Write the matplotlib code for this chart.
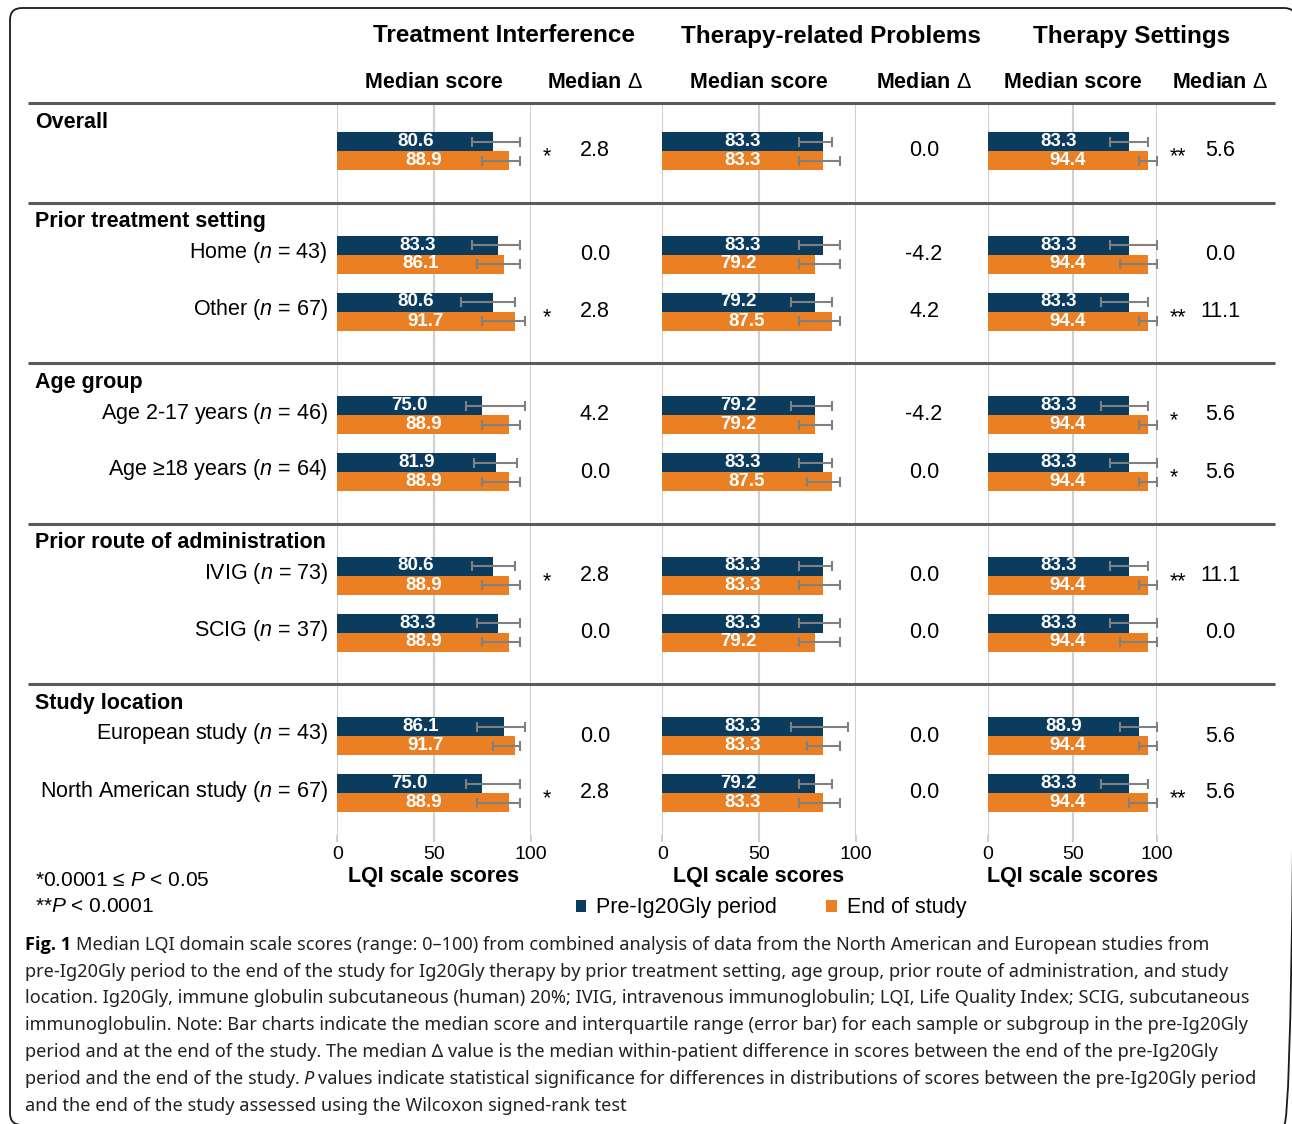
import matplotlib
matplotlib.use("Agg")
import matplotlib.pyplot as plt
from matplotlib.patches import FancyBboxPatch, Patch

plt.rcParams['font.family'] = ['Liberation Sans', 'DejaVu Sans']
plt.rcParams['mathtext.fontset'] = 'custom'
plt.rcParams['mathtext.rm'] = 'Liberation Sans'
plt.rcParams['mathtext.it'] = 'Liberation Sans:italic'
plt.rcParams['mathtext.bf'] = 'Liberation Sans:bold'

NAVY = "#0b3c5d"
ORANGE = "#ea7f24"
ERR = "#808080"
GRID = "#d0d0d0"

domains = ["Treatment Interference", "Therapy-related Problems", "Therapy Settings"]
sections = ["Overall", "Prior treatment setting", "Age group",
            "Prior route of administration", "Study location"]
section_rows = [1, 2, 2, 2, 2]
row_labels = ["", "Home ($n$ = 43)", "Other ($n$ = 67)",
              "Age 2-17 years ($n$ = 46)", "Age \u226518 years ($n$ = 64)",
              "IVIG ($n$ = 73)", "SCIG ($n$ = 37)",
              "European study ($n$ = 43)", "North American study ($n$ = 67)"]

# median scores: pre-Ig20Gly period / end of study
ti_pre = [80.6, 83.3, 80.6, 75.0, 81.9, 80.6, 83.3, 86.1, 75.0]
ti_end = [88.9, 86.1, 91.7, 88.9, 88.9, 88.9, 88.9, 91.7, 88.9]
trp_pre = [83.3, 83.3, 79.2, 79.2, 83.3, 83.3, 83.3, 83.3, 79.2]
trp_end = [83.3, 79.2, 87.5, 79.2, 87.5, 83.3, 79.2, 83.3, 83.3]
ts_pre = [83.3, 83.3, 83.3, 83.3, 83.3, 83.3, 83.3, 88.9, 83.3]
ts_end = [94.4, 94.4, 94.4, 94.4, 94.4, 94.4, 94.4, 94.4, 94.4]

# interquartile ranges
ti_pre_q1 = [69.4, 69.4, 63.9, 66.7, 70.8, 69.4, 72.2, 72.2, 66.7]
ti_pre_q3 = [94.4, 94.4, 91.7, 97.2, 93.1, 91.7, 94.4, 97.2, 94.4]
ti_end_q1 = [75.0, 72.2, 75.0, 75.0, 75.0, 75.0, 75.0, 80.6, 72.2]
ti_end_q3 = [94.4, 94.4, 97.2, 94.4, 94.4, 94.4, 94.4, 94.4, 94.4]
trp_pre_q1 = [70.8, 70.8, 66.7, 66.7, 70.8, 70.8, 70.8, 66.7, 70.8]
trp_pre_q3 = [87.5, 91.7, 87.5, 87.5, 87.5, 87.5, 91.7, 95.8, 87.5]
trp_end_q1 = [70.8, 70.8, 70.8, 70.8, 75.0, 70.8, 70.8, 75.0, 70.8]
trp_end_q3 = [91.7, 91.7, 91.7, 87.5, 91.7, 91.7, 91.7, 91.7, 91.7]
ts_pre_q1 = [72.2, 72.2, 66.7, 66.7, 72.2, 72.2, 72.2, 77.8, 66.7]
ts_pre_q3 = [94.4, 100.0, 94.4, 94.4, 100.0, 94.4, 100.0, 100.0, 94.4]
ts_end_q1 = [88.9, 77.8, 88.9, 88.9, 88.9, 88.9, 77.8, 88.9, 83.3]
ts_end_q3 = [100.0, 100.0, 100.0, 100.0, 100.0, 100.0, 100.0, 100.0, 100.0]

# median within-patient differences and significance marks
ti_delta = ["2.8", "0.0", "2.8", "4.2", "0.0", "2.8", "0.0", "0.0", "2.8"]
trp_delta = ["0.0", "-4.2", "4.2", "-4.2", "0.0", "0.0", "0.0", "0.0", "0.0"]
ts_delta = ["5.6", "0.0", "11.1", "5.6", "5.6", "11.1", "0.0", "5.6", "5.6"]
ti_sig = ["*", "", "*", "", "", "*", "", "", "*"]
trp_sig = ["", "", "", "", "", "", "", "", ""]
ts_sig = ["**", "", "**", "*", "*", "**", "", "", "**"]

caption = [
    "Median LQI domain scale scores (range: 0\u2013100) from combined analysis of data from the North American and European studies from",
    "pre-Ig20Gly period to the end of the study for Ig20Gly therapy by prior treatment setting, age group, prior route of administration, and study",
    "location. Ig20Gly, immune globulin subcutaneous (human) 20%; IVIG, intravenous immunoglobulin; LQI, Life Quality Index; SCIG, subcutaneous",
    "immunoglobulin. Note: Bar charts indicate the median score and interquartile range (error bar) for each sample or subgroup in the pre-Ig20Gly",
    "period and at the end of the study. The median \u0394 value is the median within-patient difference in scores between the end of the pre-Ig20Gly",
    "values indicate statistical significance for differences in distributions of scores between the pre-Ig20Gly period",
    "and the end of the study assessed using the Wilcoxon signed-rank test",
]

W, H = 1292, 1124
fig = plt.figure(figsize=(W / 100, H / 100), dpi=100)
fig.patch.set_facecolor("white")

# page-level axes in pixel units for headings, separators and caption
bg = fig.add_axes([0, 0, 1, 1])
bg.set_xlim(0, W)
bg.set_ylim(H, 0)
bg.axis("off")
bg.patch.set_alpha(0)
bg.set_zorder(2)

# row positions: fixed step inside a section, extra gap between sections
row_y, sec_first, sec_last = [], [], []
y = 151
for n in section_rows:
    sec_first.append(y)
    for k in range(n):
        row_y.append(y)
        y += 57
    sec_last.append(y - 57)
    y += 46.5
seps = [103] + [(sec_last[i] + sec_first[i + 1]) / 2 for i in range(len(sections) - 1)]

top, bottom = 103, 835
panel_x0 = [337.3, 662.3, 988.0]
panel_w = [193.5, 193.4, 169.3]
delta_x = [595, 924, 1220]
star_x = [543, 870, 1170]
title_x = [504, 831, 1132]

panels = [
    (ti_pre, ti_end, ti_pre_q1, ti_pre_q3, ti_end_q1, ti_end_q3, ti_delta, ti_sig),
    (trp_pre, trp_end, trp_pre_q1, trp_pre_q3, trp_end_q1, trp_end_q3, trp_delta, trp_sig),
    (ts_pre, ts_end, ts_pre_q1, ts_pre_q3, ts_end_q1, ts_end_q3, ts_delta, ts_sig),
]

bh = 19
for p, (pre, end, pq1, pq3, eq1, eq3, delta, sig) in enumerate(panels):
    ax = fig.add_axes([panel_x0[p] / W, 1 - bottom / H, panel_w[p] / W, (bottom - top) / H])
    ax.patch.set_alpha(0)
    ax.set_xlim(0, 100)
    ax.set_ylim(bottom, top)
    for s in ax.spines.values():
        s.set_visible(False)
    for v in (0, 50, 100):
        ax.axvline(v, color=GRID, lw=1.5, zorder=0)
    y_pre = [r - bh / 2 for r in row_y]
    y_end = [r + bh / 2 for r in row_y]
    ax.barh(y_pre, pre, height=bh, color=NAVY, zorder=2)
    ax.barh(y_end, end, height=bh, color=ORANGE, zorder=2)
    ax.errorbar(pre, y_pre, xerr=[[m - a for m, a in zip(pre, pq1)], [b - m for m, b in zip(pre, pq3)]],
                fmt="none", ecolor=ERR, elinewidth=1.5, capsize=3.5, capthick=1.5, zorder=3)
    ax.errorbar(end, y_end, xerr=[[m - a for m, a in zip(end, eq1)], [b - m for m, b in zip(end, eq3)]],
                fmt="none", ecolor=ERR, elinewidth=1.5, capsize=3.5, capthick=1.5, zorder=3)
    for yy, v in zip(y_pre, pre):
        ax.text(v / 2, yy, f"{v:.1f}", ha="center", va="center", color="white",
                fontsize=13.5, fontweight="bold", zorder=4)
    for yy, v in zip(y_end, end):
        ax.text(v / 2, yy, f"{v:.1f}", ha="center", va="center", color="white",
                fontsize=13.5, fontweight="bold", zorder=4)
    ax.set_yticks([])
    ax.set_xticks([0, 50, 100])
    ax.tick_params(axis="x", length=5, width=1.5, color=GRID, labelsize=14, pad=3)
    ax.set_xlabel("LQI scale scores", fontsize=15.5, fontweight="bold", labelpad=2)

    # column headings
    cx = panel_x0[p] + panel_w[p] / 2
    bg.text(title_x[p], 36, domains[p], ha="center", va="center", fontsize=17.5, fontweight="bold")
    bg.text(cx, 83, "Median score", ha="center", va="center", fontsize=15.5, fontweight="bold")
    bg.text(delta_x[p], 83, "Median $\\Delta$", ha="center", va="center", fontsize=15.5, fontweight="bold")

    for r, d, s in zip(row_y, delta, sig):
        bg.text(delta_x[p], r, d, ha="center", va="center", fontsize=15.5)
        if s:
            bg.text(star_x[p], r + 6, s, ha="left", va="center", fontsize=15.5)

# separators and section headings
for yy in seps:
    bg.plot([28, 1275], [yy, yy], color="#5a5a5a", lw=2.2, solid_capstyle="butt")
for yy, name in zip(seps, sections):
    bg.text(35, yy + 19, name, ha="left", va="center", fontsize=15.5, fontweight="bold")
for r, lab in zip(row_y, row_labels):
    if lab:
        bg.text(328, r - 2, lab, ha="right", va="center", fontsize=15.5)

# significance footnotes
bg.text(35, 881, "*0.0001 \u2264 $P$ < 0.05", ha="left", va="center", fontsize=15)
bg.text(35, 907, "**$P$ < 0.0001", ha="left", va="center", fontsize=15)

bg.legend(handles=[Patch(facecolor=NAVY), Patch(facecolor=ORANGE)],
          labels=["Pre-Ig20Gly period", "End of study"],
          loc="center", bbox_to_anchor=(771, 908), bbox_transform=bg.transData,
          ncol=2, frameon=False, fontsize=15.5, handlelength=0.5, handleheight=0.5,
          handletextpad=0.45, columnspacing=2.3, borderpad=0)

# outer frame, running off the right and bottom edges
bg.add_patch(FancyBboxPatch((10, 8), 1286, 1117, boxstyle="round,pad=0,rounding_size=12",
                            fill=False, ec="#1a1a1a", lw=1.3, clip_on=False))

# caption
cap_font = ["Noto Sans", "DejaVu Sans"]
cs = 13.1
line_y = [945, 972, 998, 1025, 1052, 1079, 1106]
fig.canvas.draw()
rend = fig.canvas.get_renderer()
inv = bg.transData.inverted()


def right_edge(t):
    bb = t.get_window_extent(rend)
    return inv.transform((bb.x1, bb.y0))[0]


t = bg.text(25, line_y[0], "Fig. 1", ha="left", va="center", fontsize=cs, fontweight="bold",
            family=["Open Sans", "DejaVu Sans"])
bg.text(right_edge(t) + 5, line_y[0], caption[0], ha="left", va="center", fontsize=cs, family=cap_font, color="#222222")
for i in (1, 2, 3, 4, 6):
    bg.text(25, line_y[i], caption[i], ha="left", va="center", fontsize=cs, family=cap_font, color="#222222")
t = bg.text(25, line_y[5], "period and the end of the study.", ha="left", va="center", fontsize=cs,
            family=cap_font, color="#222222")
t = bg.text(right_edge(t) + 4, line_y[5], "P", ha="left", va="center", fontsize=cs, style="italic",
            family=cap_font, color="#222222")
bg.text(right_edge(t) + 4, line_y[5], caption[5], ha="left", va="center", fontsize=cs, family=cap_font,
        color="#222222")

fig.savefig("out.png", dpi=100, facecolor="white")
